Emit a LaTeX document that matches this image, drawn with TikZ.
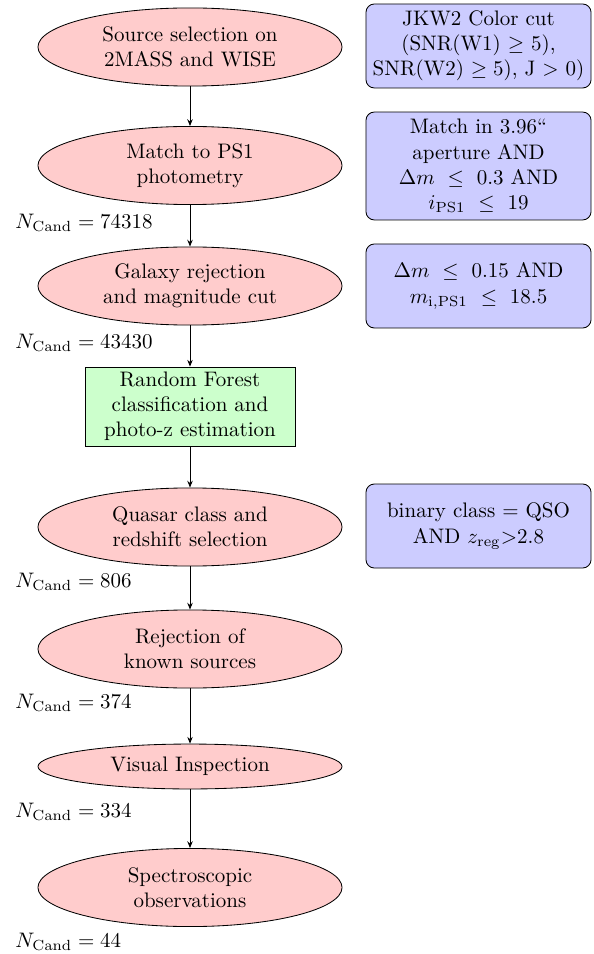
\documentclass[tikz,border=0pt]{standalone}
\usetikzlibrary{shapes.geometric,arrows.meta}
\begin{document}
\begin{tikzpicture}[x=0.4762pt,y=-0.4762pt,
  proc/.style={ellipse,draw,fill=red!20,minimum width=144.8pt,minimum height=37.2pt,align=center,inner sep=0pt},
  rfbox/.style={rectangle,draw,fill=green!20,minimum width=100pt,minimum height=37.6pt,align=center,inner sep=1pt},
  cutbox/.style={rectangle,rounded corners=4pt,draw,fill=blue!20,minimum width=107.2pt,align=center,inner sep=2pt},
  ncand/.style={anchor=west,inner sep=0pt},
  flow/.style={-{Stealth[length=3.2pt,width=2.6pt]},thin}]
\useasboundingbox (0,0) rectangle (593,954);
\node[proc] (e1) at (190,47) {Source selection on\\2MASS and WISE};
\node[proc] (e2) at (190,165.5) {Match to PS1\\photometry};
\node[proc] (e3) at (190,286) {Galaxy rejection\\and magnitude cut};
\node[rfbox] (rf) at (190,406.5) {Random Forest\\classification and\\photo-z estimation};
\node[proc] (e4) at (190,527) {Quasar class and\\redshift selection};
\node[proc] (e5) at (190,649) {Rejection of\\known sources};
\node[proc,minimum height=21.4pt] (e6) at (190,766.5) {Visual Inspection};
\node[proc] (e7) at (190,887.5) {Spectroscopic\\observations};

\node[ncand] (n1) at (15,223) {$N_{\mathrm{Cand}} = 74318$};
\node[ncand] (n2) at (15,343) {$N_{\mathrm{Cand}} = 43430$};
\node[ncand] (n3) at (15,582) {$N_{\mathrm{Cand}} = 806$};
\node[ncand] (n4) at (15,703) {$N_{\mathrm{Cand}} = 374$};
\node[ncand] (n5) at (15,812) {$N_{\mathrm{Cand}} = 334$};
\node[ncand] (n6) at (15,942) {$N_{\mathrm{Cand}} = 44$};

\node[cutbox,minimum height=40pt] (c1) at (478.5,46) {JKW2 Color cut\\(SNR(W1) $\geq$ 5),\\SNR(W2) $\geq 5$), J $>$ 0)};
\node[cutbox,minimum height=51.4pt] (c2) at (478.5,166) {Match in 3.96``\\aperture AND\\$\Delta m\ \leq\ 0.3$ AND\\$i_{\mathrm{PS1}}\ \leq\ 19$};
\node[cutbox,minimum height=40pt] (c3) at (478.5,286) {$\Delta m\ \leq\ 0.15$ AND\\$m_{\mathrm{i,PS1}}\ \leq\ 18.5$};
\node[cutbox,minimum height=40pt] (c4) at (478.5,526) {binary class = QSO\\AND $z_{\mathrm{reg}}$$>$2.8};

\draw[flow] (e1) -- (e2);
\draw[flow] (e2) -- (e3);
\draw[flow] (e3) -- (rf);
\draw[flow] (rf) -- (e4);
\draw[flow] (e4) -- (e5);
\draw[flow] (e5) -- (e6);
\draw[flow] (e6) -- (e7);
\end{tikzpicture}
\end{document}
